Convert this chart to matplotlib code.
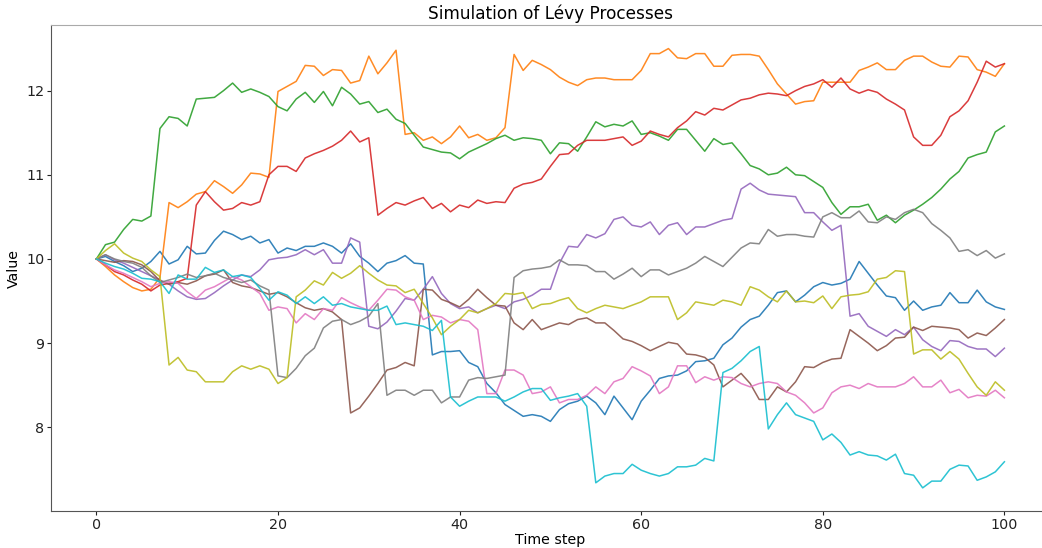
import matplotlib
matplotlib.use("Agg")
import matplotlib.pyplot as plt
import numpy as np

time_steps = np.arange(101)

blue = [10.0, 10.03, 9.97, 9.92, 9.85, 9.89, 9.97, 10.09, 9.94, 9.99, 10.15, 10.06, 10.07, 10.22,
        10.33, 10.29, 10.23, 10.27, 10.19, 10.23, 10.07, 10.13, 10.1, 10.15, 10.15, 10.19,
        10.15, 10.07, 10.18, 10.03, 9.95, 9.85, 9.95, 9.98, 10.04, 9.95, 9.94,
        8.86, 8.9, 8.9, 8.91, 8.77, 8.72, 8.52, 8.41, 8.27, 8.2, 8.13, 8.15, 8.13, 8.07,
        8.21, 8.28, 8.31, 8.37, 8.29, 8.15, 8.37, 8.23, 8.09, 8.31, 8.44, 8.58, 8.61, 8.62, 8.67,
        8.78, 8.79, 8.82, 8.98, 9.06, 9.19, 9.28, 9.32, 9.45, 9.6,
        9.62, 9.49, 9.57, 9.67, 9.72, 9.69, 9.71, 9.76, 9.97, 9.83, 9.69, 9.56, 9.54, 9.39, 9.5,
        9.39, 9.43, 9.45, 9.6, 9.48, 9.48, 9.63, 9.49, 9.43, 9.4]

orange = [10.0, 9.91, 9.81, 9.73, 9.66, 9.62, 9.64, 9.78,
          10.67, 10.61, 10.68, 10.77, 10.8, 10.93, 10.86, 10.78, 10.88, 11.02, 11.01, 10.97,
          11.99, 12.05, 12.11, 12.3, 12.29, 12.18, 12.25, 12.24, 12.09, 12.12, 12.41, 12.2, 12.33, 12.48,
          11.48, 11.5, 11.41, 11.45, 11.37, 11.45, 11.58, 11.44, 11.48, 11.41, 11.44, 11.56,
          12.43, 12.24, 12.36, 12.31, 12.25, 12.16, 12.1, 12.06, 12.13, 12.15, 12.15, 12.13, 12.13, 12.13,
          12.24, 12.44, 12.44, 12.5, 12.39, 12.38, 12.44, 12.44, 12.29, 12.29, 12.42, 12.43, 12.43, 12.41,
          12.25, 12.08,
          11.96, 11.84, 11.87, 11.88, 12.1, 12.1, 12.1, 12.1, 12.24, 12.28, 12.33, 12.25, 12.25, 12.36,
          12.41, 12.41, 12.34, 12.29, 12.28, 12.41, 12.4, 12.25, 12.22, 12.17, 12.32]

green = [10.0, 10.17, 10.2, 10.35, 10.47, 10.45, 10.51,
         11.55, 11.69, 11.67, 11.58, 11.9, 11.91, 11.92, 12.0, 12.09, 11.98, 12.02, 11.98, 11.93,
         11.81, 11.76, 11.9, 11.98, 11.86, 11.99,
         11.82, 12.04, 11.96, 11.84, 11.87, 11.74, 11.78, 11.66, 11.61, 11.47, 11.33, 11.3, 11.27,
         11.26, 11.19, 11.27, 11.32, 11.37, 11.43, 11.47, 11.41, 11.44, 11.43, 11.41, 11.25,
         11.38, 11.37, 11.28, 11.45, 11.63, 11.57, 11.6, 11.58, 11.64, 11.48, 11.5, 11.46, 11.41,
         11.54, 11.54, 11.41, 11.28, 11.43, 11.36, 11.38, 11.25, 11.11, 11.07, 11.0, 11.02,
         11.09, 11.0, 10.99, 10.92, 10.85, 10.67, 10.53, 10.62, 10.62, 10.65, 10.46, 10.52, 10.43,
         10.52, 10.58, 10.65, 10.73, 10.83, 10.95, 11.04, 11.2, 11.24, 11.27, 11.51, 11.58]

red = [10.0, 9.93, 9.85, 9.81, 9.75, 9.7, 9.62, 9.69, 9.71, 9.73, 9.77,
       10.64, 10.8, 10.68, 10.58, 10.6, 10.67, 10.64, 10.68, 11.0, 11.1, 11.1, 11.04, 11.2, 11.25, 11.29,
       11.34, 11.41, 11.52, 11.39, 11.44, 10.52, 10.6, 10.67, 10.64, 10.69, 10.73, 10.6, 10.66,
       10.56, 10.64, 10.61, 10.7, 10.66, 10.68, 10.67, 10.84, 10.89, 10.91, 10.95, 11.1,
       11.24, 11.25, 11.35, 11.41, 11.41, 11.41, 11.43, 11.45, 11.35, 11.4, 11.52, 11.48, 11.45,
       11.56, 11.64, 11.75, 11.71, 11.79, 11.77, 11.83, 11.89, 11.91, 11.95, 11.97, 11.96,
       11.94, 12.0, 12.05, 12.08, 12.13, 12.04, 12.15, 12.02, 11.97, 12.01, 11.98, 11.9, 11.84,
       11.77, 11.45, 11.35, 11.35, 11.47, 11.69, 11.76, 11.88, 12.1, 12.35, 12.28, 12.32]

purple = [10.0, 10.05, 9.99, 9.95, 9.9, 9.85, 9.8, 9.75, 9.7, 9.62,
          9.55, 9.52, 9.53, 9.6, 9.68, 9.75, 9.81, 9.79, 9.87, 9.99, 10.01, 10.02, 10.05, 10.11,
          10.05, 10.11,
          9.95, 9.95, 10.25, 10.2, 9.2, 9.17, 9.25, 9.38, 9.53, 9.51, 9.64, 9.79, 9.59, 9.47, 9.41,
          9.43, 9.36, 9.41, 9.45, 9.41, 9.49, 9.52, 9.57, 9.64, 9.64,
          9.95, 10.15, 10.14, 10.29, 10.25, 10.3, 10.47, 10.5, 10.4, 10.38, 10.44, 10.29, 10.4,
          10.43, 10.29, 10.38, 10.38, 10.42, 10.46, 10.48, 10.83, 10.9, 10.82, 10.77, 10.76,
          10.75, 10.74, 10.55, 10.55, 10.44, 10.34, 10.4, 9.32, 9.35, 9.2, 9.14, 9.08, 9.16, 9.1,
          9.19, 9.04, 8.96, 8.91, 9.03, 9.02, 8.96, 8.93, 8.93, 8.84, 8.94]

brown = [10.0, 9.98, 9.96, 9.98, 9.97, 9.93, 9.85, 9.74, 9.7, 9.72, 9.7, 9.74, 9.8, 9.82, 9.87,
         9.72, 9.68, 9.66, 9.62, 9.58, 9.6, 9.55, 9.48, 9.42,
         9.39, 9.41, 9.37, 9.28, 8.17, 8.23, 8.37, 8.52, 8.68, 8.71, 8.77, 8.73, 9.64, 9.63, 9.52,
         9.48, 9.43, 9.52, 9.64, 9.54, 9.45, 9.44, 9.24, 9.16, 9.28, 9.16, 9.2,
         9.24, 9.22, 9.28, 9.3, 9.24, 9.24, 9.15, 9.05, 9.02, 8.97, 8.91, 8.96, 9.01, 8.99, 8.87,
         8.86, 8.83, 8.74, 8.48, 8.56, 8.64, 8.52, 8.33, 8.33, 8.48,
         8.42, 8.54, 8.72, 8.71, 8.77, 8.81, 8.82, 9.16, 9.08, 9.0, 8.91, 8.97, 9.06, 9.07, 9.19,
         9.15, 9.2, 9.19, 9.18, 9.16, 9.06, 9.12, 9.09, 9.18, 9.28]

pink = [10.0, 9.93, 9.87, 9.83, 9.78, 9.73, 9.67, 9.71, 9.73, 9.71, 9.61, 9.53, 9.63, 9.67, 9.73,
        9.79, 9.75, 9.67, 9.59, 9.39, 9.43, 9.41, 9.24, 9.35, 9.28, 9.41,
        9.39, 9.54, 9.48, 9.43, 9.39, 9.51, 9.64, 9.63, 9.55, 9.51, 9.28, 9.33, 9.31, 9.24, 9.28,
        9.26, 9.16, 8.4, 8.4, 8.68, 8.68, 8.62, 8.4, 8.42, 8.48,
        8.29, 8.33, 8.33, 8.38, 8.48, 8.4, 8.54, 8.58, 8.72, 8.67, 8.61, 8.4, 8.48, 8.73, 8.73,
        8.53, 8.6, 8.56, 8.6, 8.59, 8.52, 8.48, 8.52, 8.54, 8.52,
        8.42, 8.38, 8.29, 8.17, 8.23, 8.41, 8.48, 8.5, 8.46, 8.52, 8.48, 8.48, 8.48, 8.52, 8.6,
        8.48, 8.48, 8.56, 8.41, 8.45, 8.35, 8.38, 8.37, 8.44, 8.35]

gray = [10.0, 10.05, 10.0, 9.97, 9.95, 9.9, 9.8, 9.72, 9.75, 9.78, 9.82, 9.78, 9.8, 9.83, 9.78,
        9.75, 9.72, 9.75, 9.68, 9.63,
        8.61, 8.59, 8.7, 8.85, 8.94, 9.18, 9.26, 9.28, 9.22, 9.26, 9.32, 9.47,
        8.38, 8.44, 8.44, 8.38, 8.44, 8.44, 8.29, 8.36, 8.36, 8.56, 8.59, 8.58, 8.6, 8.62,
        9.78, 9.86, 9.88, 9.89, 9.91,
        9.99, 9.93, 9.93, 9.92, 9.85, 9.85, 9.76, 9.82, 9.89, 9.79, 9.87, 9.87, 9.81, 9.85, 9.89,
        9.95, 10.03, 9.97, 9.91, 10.02, 10.13, 10.19, 10.18, 10.35, 10.27,
        10.29, 10.29, 10.27, 10.26, 10.5, 10.55, 10.49, 10.49, 10.57, 10.44, 10.43, 10.5, 10.47,
        10.55, 10.59, 10.55, 10.42, 10.34, 10.25, 10.09, 10.11, 10.04, 10.1, 10.01, 10.06]

olive = [10.0, 10.1, 10.18, 10.07, 10.01, 9.97, 9.87, 9.79,
         8.74, 8.83, 8.68, 8.66, 8.54, 8.54, 8.54, 8.66, 8.73, 8.69, 8.73, 8.69, 8.52, 8.59,
         9.55, 9.63, 9.74, 9.69, 9.84, 9.77, 9.83, 9.92, 9.83, 9.75, 9.69, 9.68, 9.6, 9.64, 9.47,
         9.3, 9.1, 9.2, 9.28, 9.39, 9.36, 9.41, 9.47, 9.59, 9.58, 9.6, 9.41, 9.46, 9.47,
         9.51, 9.54, 9.41, 9.36, 9.41, 9.45, 9.43, 9.41, 9.45, 9.49, 9.55, 9.55, 9.55, 9.28, 9.36,
         9.49, 9.47, 9.45, 9.51, 9.49, 9.45, 9.67, 9.63, 9.55, 9.49,
         9.62, 9.49, 9.5, 9.48, 9.56, 9.41, 9.55, 9.57, 9.58, 9.61, 9.76, 9.78, 9.86, 9.85, 8.87,
         8.92, 8.92, 8.81, 8.9, 8.81, 8.64, 8.48, 8.38, 8.54, 8.44]

cyan = [10.0, 9.95, 9.91, 9.88, 9.83, 9.77, 9.76, 9.73, 9.59, 9.81, 9.76, 9.76, 9.9, 9.84, 9.87,
        9.79, 9.81, 9.78, 9.65, 9.51, 9.61, 9.57, 9.47, 9.55, 9.47, 9.55,
        9.45, 9.47, 9.43, 9.41, 9.39, 9.39, 9.44, 9.22, 9.24, 9.22, 9.2, 9.15, 9.27, 8.36, 8.25,
        8.31, 8.36, 8.36, 8.36, 8.31, 8.36, 8.42, 8.46, 8.46, 8.32,
        8.35, 8.37, 8.4, 8.25, 7.34, 7.42, 7.45, 7.45, 7.56, 7.49, 7.45, 7.42, 7.45, 7.53, 7.53,
        7.55, 7.63, 7.6, 8.65, 8.7, 8.79, 8.9, 8.96, 7.98, 8.15,
        8.29, 8.15, 8.11, 8.07, 7.85, 7.92, 7.82, 7.67, 7.71, 7.67, 7.66, 7.61, 7.68, 7.45, 7.43,
        7.28, 7.36, 7.36, 7.5, 7.55, 7.54, 7.37, 7.41, 7.47, 7.59]

paths = [blue, orange, green, red, purple, brown, pink, gray, olive, cyan]

W, H = 1042, 548
px_per_step = 9.08
left_px, right_px = 51, W
fig = plt.figure(figsize=(W / 100, H / 100), dpi=100)
# plotting area reaches the right edge of the canvas; no right-hand frame
ax = fig.add_axes([left_px / W, (H - 511) / H, (right_px - left_px) / W, (511 - 25) / H])

for path in paths:
    ax.plot(time_steps, path, linewidth=1.1, alpha=0.9)

ax.set_xlim(-5, -5 + (right_px - left_px) / px_per_step)
ax.set_ylim(7.005, 12.78)
ax.set_xticks([0, 20, 40, 60, 80, 100])
ax.set_yticks([8, 9, 10, 11, 12])
ax.tick_params(labelsize=10.3, length=2.8, width=0.8, pad=2, colors="#222222")
ax.spines["right"].set_visible(False)
ax.spines["left"].set_color("#555555")
ax.spines["bottom"].set_color("#555555")
ax.spines["top"].set_color("#aaaaaa")
for side in ax.spines.values():
    side.set_linewidth(0.8)

ax.set_title("Simulation of Lévy Processes", fontsize=12.2, pad=4,
             x=(1050 / 2 + 25.5 - left_px) / (right_px - left_px))
ax.set_xlabel("Time step", fontsize=10.2, labelpad=1)
ax.xaxis.set_label_coords((550 - left_px) / (right_px - left_px), -0.045)
ax.set_ylabel("Value", fontsize=10.2, labelpad=4)

fig.savefig("out.png", dpi=100)
